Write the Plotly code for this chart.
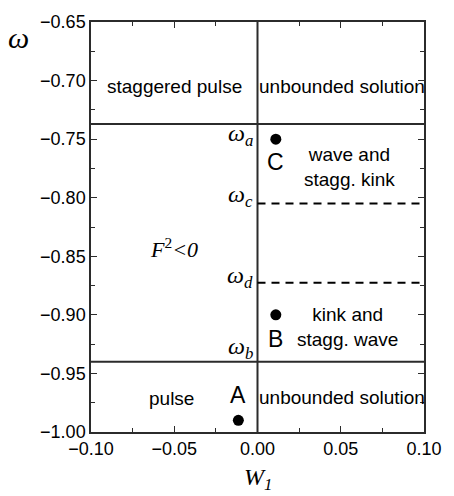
import plotly.graph_objects as go

# Regime boundaries (omega values) and region split at W1 = 0
omega_a = -0.737
omega_c = -0.805
omega_d = -0.8725
omega_b = -0.94
w_split = 0.0

# Marked solutions
point_labels = ["A", "B", "C"]
point_w1 = [-0.0115, 0.011, 0.011]
point_omega = [-0.99, -0.90, -0.75]

x_range = [-0.10, 0.10]
y_range = [-1.00, -0.65]
x_ticks = [-0.10, -0.05, 0.00, 0.05, 0.10]
y_ticks = [-1.00, -0.95, -0.90, -0.85, -0.80, -0.75, -0.70, -0.65]

sans = "Liberation Sans, Arial, sans-serif"
serif = "Liberation Serif, Times New Roman, serif"
line_col = "#2b2b2b"

fig = go.Figure()

# Solid boundaries
for om in (omega_a, omega_b):
    fig.add_trace(go.Scatter(x=x_range, y=[om, om], mode="lines",
                             line=dict(color=line_col, width=2), hoverinfo="skip"))
fig.add_trace(go.Scatter(x=[w_split, w_split], y=y_range, mode="lines",
                         line=dict(color=line_col, width=2), hoverinfo="skip"))
# Dashed boundaries
for om in (omega_c, omega_d):
    fig.add_trace(go.Scatter(x=[w_split, x_range[1]], y=[om, om], mode="lines",
                             line=dict(color="black", width=2, dash="8px,6px"),
                             hoverinfo="skip"))

# Points
fig.add_trace(go.Scatter(x=point_w1, y=point_omega, mode="markers",
                         marker=dict(color="black", size=11), hoverinfo="skip"))


def note(x, y, text, size=19, font=sans, xanchor="center", yanchor="middle"):
    fig.add_annotation(x=x, y=y, xref="x", yref="y", text=text, showarrow=False,
                       font=dict(family=font, size=size, color="black"),
                       xanchor=xanchor, yanchor=yanchor)


# Point letters
note(point_w1[0], point_omega[0] + 0.0215, point_labels[0], size=23)
note(point_w1[1], point_omega[1] - 0.0205, point_labels[1], size=23)
note(point_w1[2], point_omega[2] - 0.0195, point_labels[2], size=23)

# Region labels
note(-0.05, -0.7054, "staggered pulse")
note(0.051, -0.7054, "unbounded solution")
note(0.055, -0.774, "wave and<br>stagg. kink")
note(0.054, -0.91, "kink and<br>stagg. wave")
note(-0.0517, -0.971, "pulse")
note(0.051, -0.9705, "unbounded solution")
note(-0.05, -0.8426, "<i>F</i><sup>2</sup><i>&lt;0</i>", size=22, font=serif)

# Boundary symbols, placed just left of W1 = 0
omega_marks = [("a", -0.7465), ("c", -0.7985), ("d", -0.8675), ("b", -0.9285)]
for sub, y in omega_marks:
    note(-0.0017, y, "<i>ω</i><sub><i>%s</i></sub>" % sub,
         size=24, font=serif, xanchor="right")

# Axis titles
fig.add_annotation(x=-0.218, y=0.962, xref="paper", yref="paper", text="<i>ω</i>",
                   showarrow=False, font=dict(family=serif, size=30, color="black"),
                   xanchor="center", yanchor="middle")
fig.add_annotation(x=0.0005, y=-0.115, xref="x", yref="paper", text="<i>W</i><sub><i>1</i></sub>",
                   showarrow=False, font=dict(family=serif, size=24, color="black"),
                   xanchor="center", yanchor="middle")

axis_common = dict(showgrid=False, zeroline=False, showline=True, linecolor=line_col,
                   linewidth=1.5, mirror="ticks", ticks="inside", ticklen=6,
                   tickwidth=1.2, tickcolor=line_col, tickformat=".2f",
                   tickfont=dict(family=sans, size=18, color="black"))

fig.update_xaxes(range=x_range, tickvals=x_ticks,
                 minor=dict(dtick=0.025, ticks="inside", ticklen=4, tickcolor=line_col, tick0=0),
                 **axis_common)
fig.update_yaxes(range=y_range, tickvals=y_ticks,
                 minor=dict(dtick=0.025, ticks="inside", ticklen=4, tickcolor=line_col, tick0=-1.0),
                 **axis_common)

fig.update_layout(width=454, height=496, showlegend=False,
                  margin=dict(l=91, r=19, t=12, b=64),
                  plot_bgcolor="white", paper_bgcolor="white")

fig.write_html("out.html")
